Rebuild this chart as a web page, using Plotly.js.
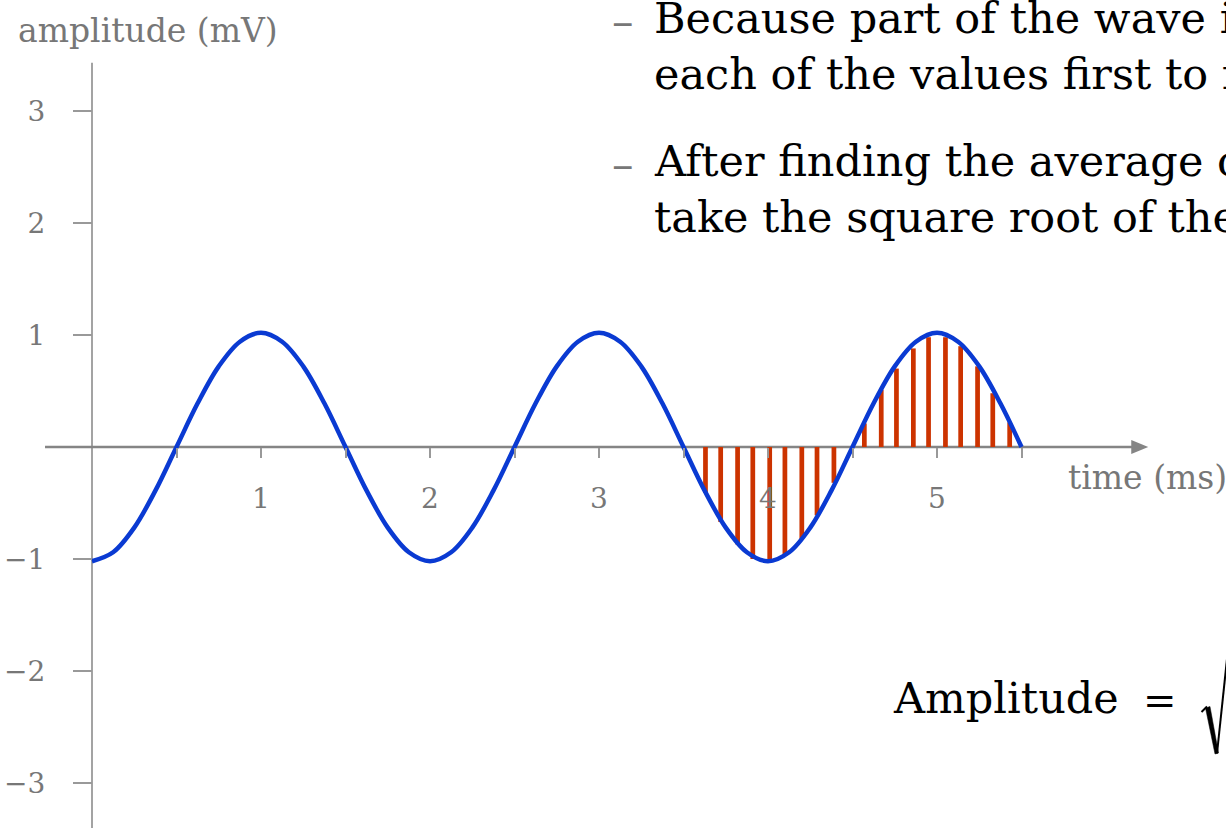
<!DOCTYPE html>
<html>
<head>
<meta charset="utf-8">
<script src="https://cdn.plot.ly/plotly-3.0.1.min.js"></script>
<style>
  html, body { margin: 0; padding: 0; background: #fff; }
  #chart { width: 1226px; height: 828px; }
</style>
</head>
<body>
<div id="chart"></div>
<script>
// Continuous wave: time (ms) and amplitude (mV)
const waveTime = [0, 0.125, 0.25, 0.375, 0.5, 0.625, 0.75, 0.875, 1, 1.125, 1.25, 1.375, 1.5, 1.625, 1.75, 1.875,
  2, 2.125, 2.25, 2.375, 2.5, 2.625, 2.75, 2.875, 3, 3.125, 3.25, 3.375, 3.5, 3.625, 3.75, 3.875,
  4, 4.125, 4.25, 4.375, 4.5, 4.625, 4.75, 4.875, 5, 5.125, 5.25, 5.375, 5.5];
const waveAmp = [-1.02, -0.94, -0.72, -0.39, 0, 0.39, 0.72, 0.94, 1.02, 0.94, 0.72, 0.39, 0, -0.39, -0.72, -0.94,
  -1.02, -0.94, -0.72, -0.39, 0, 0.39, 0.72, 0.94, 1.02, 0.94, 0.72, 0.39, 0, -0.39, -0.72, -0.94,
  -1.02, -0.94, -0.72, -0.39, 0, 0.39, 0.72, 0.94, 1.02, 0.94, 0.72, 0.39, 0];

// Sampled values over the last period
const sampleTime = [3.63, 3.72, 3.82, 3.91, 4.01, 4.10, 4.20, 4.29, 4.39,
  4.57, 4.67, 4.76, 4.86, 4.95, 5.05, 5.14, 5.24, 5.33, 5.43];
const sampleAmp = [-0.41, -0.67, -0.87, -1.00, -1.01, -0.97, -0.82, -0.61, -0.32,
  0.21, 0.51, 0.70, 0.88, 0.98, 0.98, 0.90, 0.72, 0.48, 0.22];

// Axis ticks
const xTickVals = [0.5, 1, 1.5, 2, 2.5, 3, 3.5, 4, 4.5, 5, 5.5];
const xTickText = ['', '1', '', '2', '', '3', '', '4', '', '5', ''];
const yTickVals = [-3, -2, -1, 1, 2, 3];
const yTickText = ['\u22123', '\u22122', '\u22121', '1', '2', '3'];

const xRange = [-0.5444, 6.710];
const yRange = [-3.402, 3.991];
const GRAY = '#858585';
const LABEL = '#777777';
const SERIF = 'DejaVu Serif, serif';

const W = 1226, H = 828;
const px = v => v / W;          // page pixel -> paper x
const py = v => 1 - v / H;      // page pixel -> paper y

const traces = [
  {
    type: 'bar', x: sampleTime, y: sampleAmp, width: 0.028,
    marker: { color: '#cc3300', line: { width: 0 } },
    hoverinfo: 'skip'
  },
  {
    type: 'scatter', mode: 'lines', x: waveTime, y: waveAmp,
    line: { color: '#0a3ad2', width: 4.5, shape: 'spline', smoothing: 1 },
    hoverinfo: 'skip'
  }
];

const xPos = (0 - yRange[0]) / (yRange[1] - yRange[0]);
const yPos = (0 - xRange[0]) / (xRange[1] - xRange[0]);

function pathFrom(points) {
  return points.map((p, i) => (i ? 'L' : 'M') + px(p[0]) + ',' + py(p[1])).join(' ');
}

function textNote(x, y, text, size, color, anchor) {
  return {
    xref: 'paper', yref: 'paper', x: px(x), y: py(y), xanchor: anchor || 'left', yanchor: 'middle',
    text: text, showarrow: false, font: { family: SERIF, size: size, color: color }
  };
}

const layout = {
  width: W, height: H,
  margin: { l: 0, r: 0, t: 0, b: 0 },
  paper_bgcolor: '#fff', plot_bgcolor: '#fff',
  showlegend: false,
  xaxis: {
    range: xRange, anchor: 'free', position: xPos,
    showgrid: false, zeroline: false, showline: false,
    tickmode: 'array', tickvals: xTickVals, ticktext: xTickText,
    ticks: 'outside', ticklen: 10, tickwidth: 2, tickcolor: '#999',
    ticklabelstandoff: 16,
    tickfont: { family: SERIF, size: 28, color: LABEL }
  },
  yaxis: {
    range: yRange, anchor: 'free', position: yPos,
    showgrid: false, zeroline: false, showline: false,
    tickmode: 'array', tickvals: yTickVals, ticktext: yTickText,
    ticks: 'outside', ticklen: 19, tickwidth: 1.5, tickcolor: '#999',
    ticklabelstandoff: 22,
    tickfont: { family: SERIF, size: 28, color: LABEL }
  },
  shapes: [
    // horizontal axis line with arrow head
    { type: 'line', xref: 'x', yref: 'y', x0: -0.278, x1: 6.16, y0: 0, y1: 0,
      line: { color: GRAY, width: 2.5 }, layer: 'below' },
    { type: 'path', xref: 'x', yref: 'y', xsizemode: 'pixel', ysizemode: 'pixel',
      xanchor: 6.25, yanchor: 0, path: 'M0,0 L-17,7 L-17,-7 Z',
      fillcolor: GRAY, line: { width: 0 } },
    // vertical axis line
    { type: 'line', xref: 'x', yref: 'y', x0: 0, x1: 0, y0: -3.5, y1: 3.43,
      line: { color: GRAY, width: 1.5 }, layer: 'below' },
    // radical sign of the formula
    { type: 'path', xref: 'paper', yref: 'paper',
      path: pathFrom([[1201.5, 712], [1207, 706.5]]),
      line: { color: '#000', width: 2 } },
    { type: 'path', xref: 'paper', yref: 'paper',
      path: pathFrom([[1205.5, 708], [1210, 706.5], [1218.5, 753], [1215, 754]]) + ' Z',
      fillcolor: '#000', line: { color: '#000', width: 0.5 } },
    { type: 'path', xref: 'paper', yref: 'paper',
      path: pathFrom([[1217, 753.5], [1229, 640]]),
      line: { color: '#000', width: 2 } }
  ],
  annotations: [
    textNote(16, 31, 'amplitude (mV)', 33, LABEL),
    textNote(1066, 477, 'time (ms)', 33, LABEL),
    // bullet text
    textNote(610, 21, '\u2013', 43, '#777'),
    textNote(652, 18, 'Because part of the wave is negative, square', 43, '#000'),
    textNote(652, 74, 'each of the values first to make them positive', 43, '#000'),
    textNote(610, 164, '\u2013', 43, '#777'),
    textNote(652, 161, 'After finding the average of the squares,', 43, '#000'),
    textNote(652, 217, 'take the square root of the result', 43, '#000'),
    // formula
    textNote(891, 698, 'Amplitude', 43, '#000'),
    textNote(1141, 700, '=', 40, '#000')
  ]
};

Plotly.newPlot('chart', traces, layout, { displayModeBar: false, staticPlot: true });
</script>
</body>
</html>
